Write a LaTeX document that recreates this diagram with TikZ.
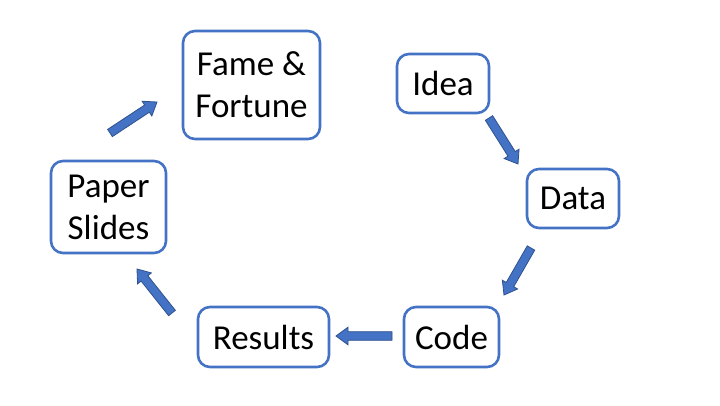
\documentclass[tikz,border=0pt]{standalone}
\usepackage{fontspec}
\setmainfont{Carlito}
\usetikzlibrary{calc}
\definecolor{boxblue}{HTML}{4472C4}
\definecolor{arrowdark}{HTML}{2F528F}
\tikzset{
  stepbox/.style={draw=boxblue, line width=2.6pt, rounded corners=12pt, fill=white,
    align=center, inner sep=0pt, font=\fontsize{35}{42}\selectfont},
  blockarrow/.style={fill=boxblue, draw=arrowdark, line width=0.8pt, line join=miter},
}
\newcommand\blkarrow[2]{%
  \coordinate (neck) at ($(#2)!12pt!(#1)$);
  \draw[blockarrow] ($(#1)!4.3pt!90:(#2)$) -- ($(neck)!4.3pt!-90:(#1)$)
    -- ($(neck)!8.8pt!-90:(#1)$) -- (#2) -- ($(neck)!8.8pt!90:(#1)$)
    -- ($(neck)!4.3pt!90:(#1)$) -- ($(#1)!4.3pt!-90:(#2)$) -- cycle;}
\begin{document}
\begin{tikzpicture}[x=1pt,y=-1pt]
\useasboundingbox[fill=white] (0,0) rectangle (720,405);
\node[stepbox, minimum width=137pt, minimum height=108pt] (fame) at (251.5,85) {Fame \&\\Fortune};
\node[stepbox, minimum width=92pt, minimum height=59pt] (idea) at (443,83.5) {Idea};
\node[stepbox, minimum width=92pt, minimum height=59pt] (data) at (573,198.5) {Data};
\node[stepbox, minimum width=95pt, minimum height=60pt] (code) at (451.5,337) {Code};
\node[stepbox, minimum width=131pt, minimum height=60pt] (results) at (263.5,337) {Results};
\node[stepbox, minimum width=115pt, minimum height=92pt] (paper) at (108.5,207) {Paper\\Slides};
\coordinate (a1s) at (489,118); \coordinate (a1e) at (518,164);
\coordinate (a2s) at (531,248); \coordinate (a2e) at (504,295);
\coordinate (a3s) at (392,336); \coordinate (a3e) at (336,336);
\coordinate (a4s) at (172,313); \coordinate (a4e) at (137,269);
\coordinate (a5s) at (110,133); \coordinate (a5e) at (157,102);
\blkarrow{a1s}{a1e}
\blkarrow{a2s}{a2e}
\blkarrow{a3s}{a3e}
\blkarrow{a4s}{a4e}
\blkarrow{a5s}{a5e}
\end{tikzpicture}
\end{document}
